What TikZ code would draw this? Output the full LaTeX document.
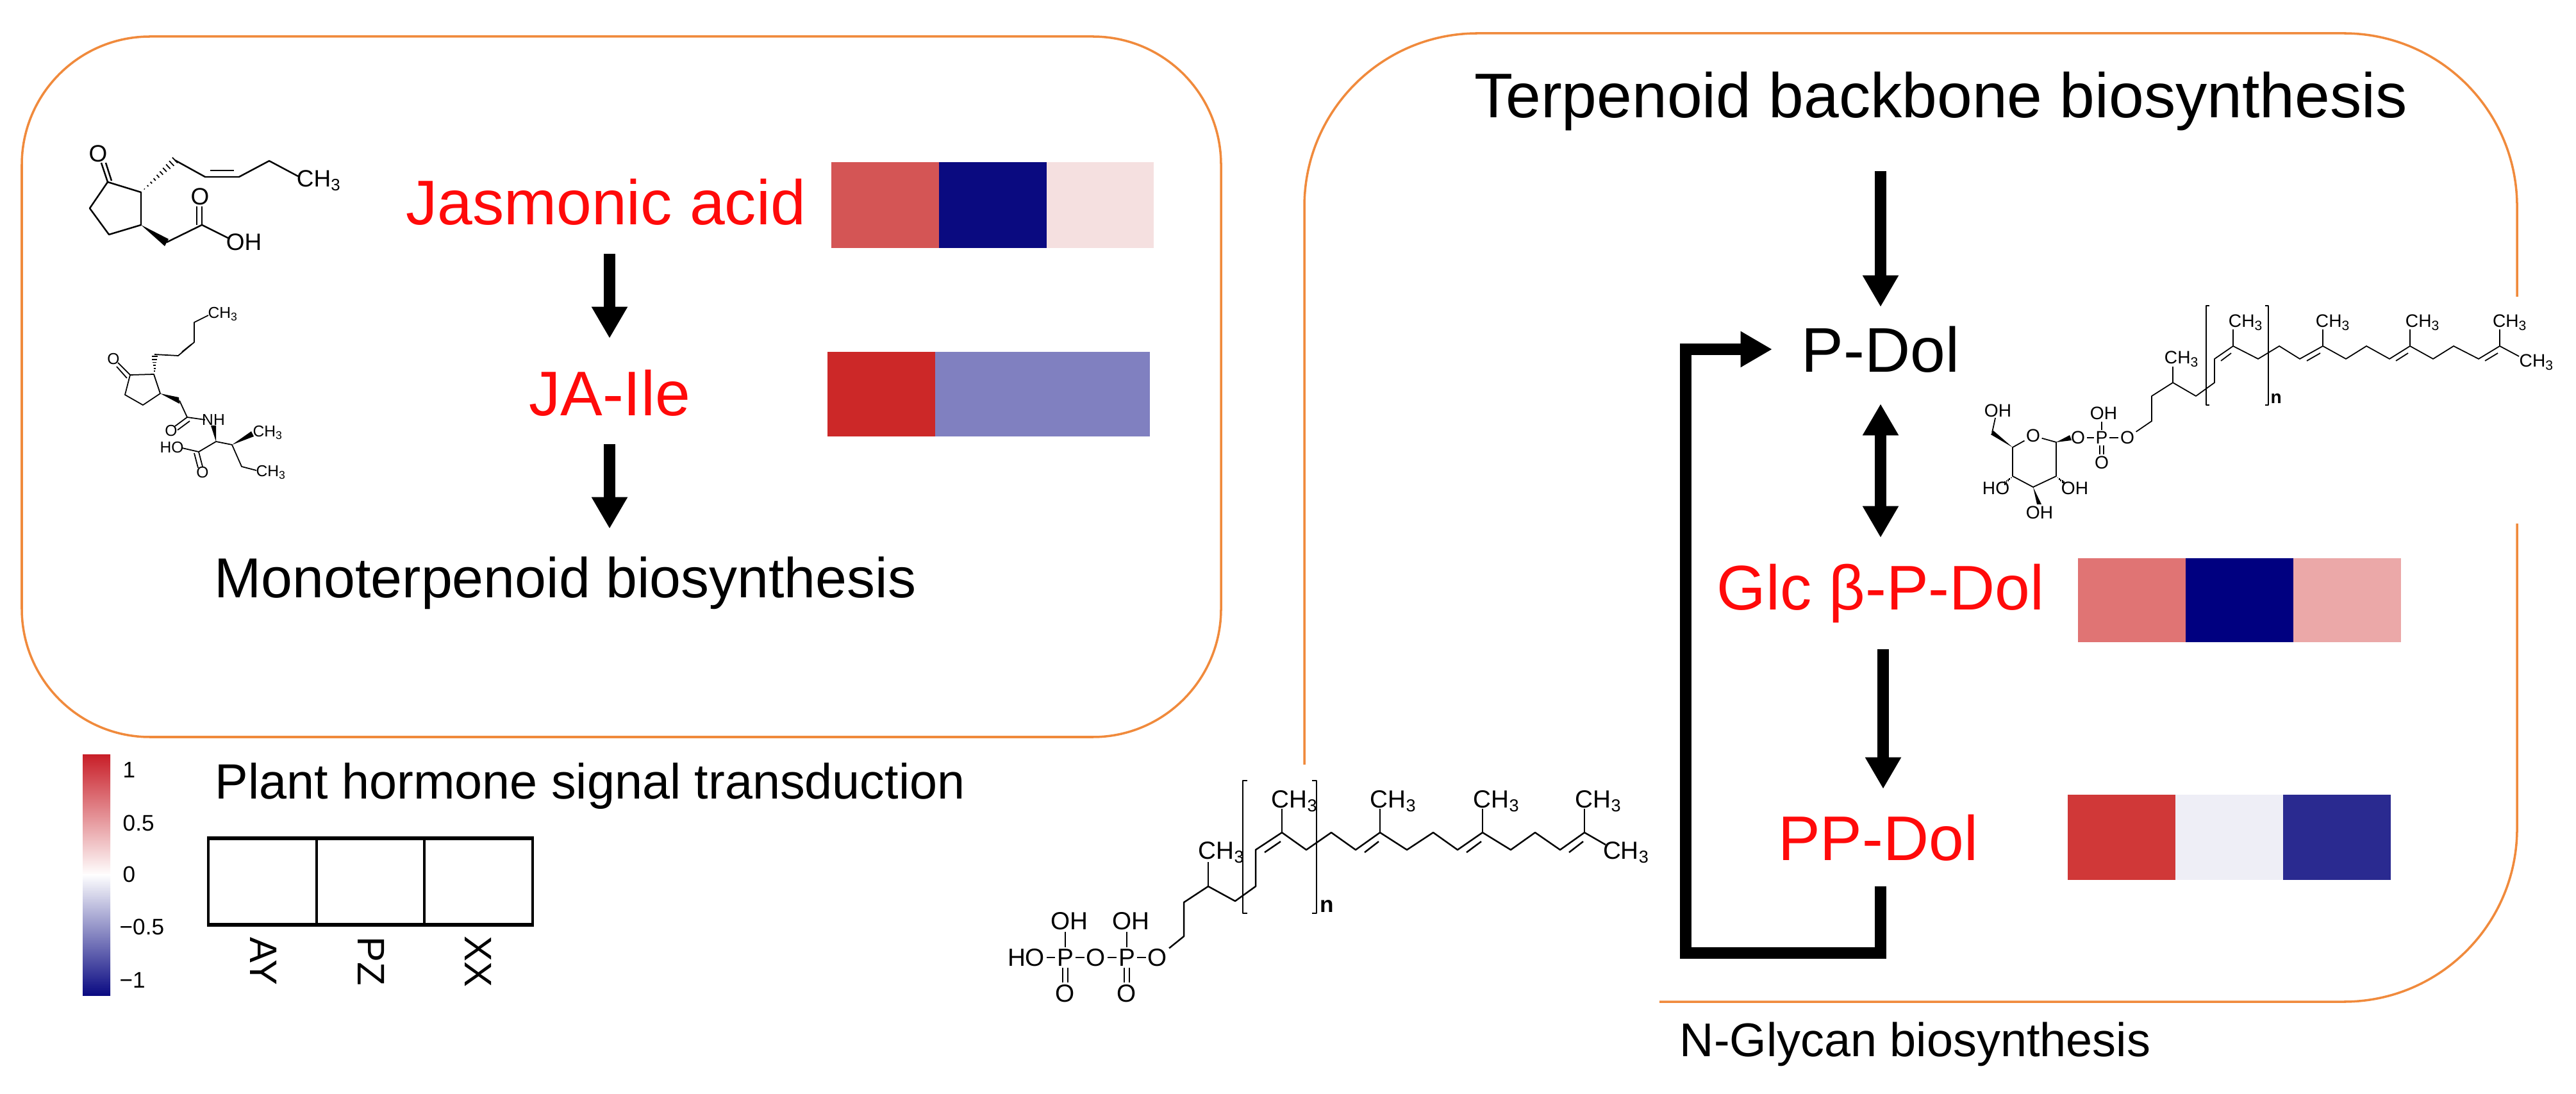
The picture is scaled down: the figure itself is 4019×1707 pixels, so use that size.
\documentclass[tikz,border=0pt]{standalone}
\usepackage{fontspec}
\setmainfont{Liberation Sans}
\usetikzlibrary{arrows.meta}
\definecolor{boxor}{HTML}{F08A3C}
\definecolor{txtred}{HTML}{FF0A0A}
\definecolor{cbred}{RGB}{200,30,40}
\definecolor{cbblue}{RGB}{10,10,130}
\tikzset{
  big/.style={font=\fontsize{28}{30}\selectfont, inner sep=0pt},
  redt/.style={big, text=txtred},
  arr/.style={line width=5pt, -{Triangle[width=15pt,length=14pt]}},
  darr/.style={line width=5pt, {Triangle[width=15pt,length=14pt]}-{Triangle[width=15pt,length=14pt]}},
  obox/.style={draw=boxor, line width=1pt},
  mA/.style={font=\fontsize{11}{12}\selectfont, inner sep=0.5pt},
  mB/.style={font=\fontsize{8}{9}\selectfont, inner sep=0.5pt},
  mJ/.style={font=\fontsize{10.5}{12}\selectfont, inner sep=0.5pt},
  mK/.style={font=\fontsize{7}{8}\selectfont, inner sep=0.5pt},
  bond/.style={line width=0.7pt},
  bondt/.style={line width=0.5pt},
}
\begin{document}
\begin{tikzpicture}[x=0.01cm,y=-0.01cm, line join=round]
\useasboundingbox (0,0) rectangle (4019,1707);

% ---------------- boxes
\draw[obox, rounded corners=2cm] (34,57) rectangle (1905,1150);
\draw[obox, rounded corners=2.7cm] (2035,1193) -- (2035,52) -- (3927,52) -- (3927,463);
\draw[obox, rounded corners=2.7cm] (3927,817) -- (3927,1563) -- (2589,1563);

% ---------------- left pathway
\node[redt] (ja) at (945,315) {Jasmonic acid};
\node[redt] (jaile) at (951,613) {JA-Ile};
\node[big, font=\fontsize{25}{27}\selectfont] (mono) at (882,910) {Monoterpenoid biosynthesis};
\draw[arr, shorten <=0.81cm, shorten >=0.85cm] (ja.center -| jaile.center) -- (jaile.center);
\draw[arr, shorten <=0.80cm, shorten >=0.85cm] (jaile.center) -- (jaile.center |- mono.center);

\fill[fill={rgb,255:red,212;green,85;blue,85}] (1297,253) rectangle (1465,387);
\fill[fill={rgb,255:red,10;green,10;blue,128}] (1465,253) rectangle (1633,387);
\fill[fill={rgb,255:red,245;green,224;blue,224}] (1633,253) rectangle (1800,387);
\fill[fill={rgb,255:red,204;green,40;blue,40}] (1291,549) rectangle (1459,681);
\fill[fill={rgb,255:red,128;green,128;blue,192}] (1459,549) rectangle (1794,681);

% ---------------- right pathway
\node[big] (terp) at (3028,158) {Terpenoid backbone biosynthesis};
\node[big] (pdol) at (2934,545) {P-Dol};
\node[redt] (glc) at (2934,926) {Glc β-P-Dol};
\node[redt] (ppdol) at (2930,1307) {PP-Dol};
\node[font=\fontsize{21}{23}\selectfont, inner sep=0pt] (nglyc) at (2988,1629) {N-Glycan biosynthesis};
\coordinate (lp) at (2630,1487);

\draw[arr, shorten <=1.09cm, shorten >=0.66cm] (terp.center -| pdol.center) -- (pdol.center);
\draw[darr, shorten <=0.85cm, shorten >=0.87cm] (pdol.center) -- (glc.center);
\draw[arr, shorten <=0.87cm, shorten >=0.76cm] ([xshift=0.04cm]glc.center) -- ([xshift=0.04cm]glc.center |- ppdol.center);
\draw[arr, line join=miter] ([xshift=0.04cm,yshift=-0.76cm]ppdol.center) |- (lp) |- ([xshift=-1.69cm]pdol.center);

\fill[fill={rgb,255:red,224;green,116;blue,116}] (3242,871) rectangle (3410,1002);
\fill[fill={rgb,255:red,0;green,0;blue,128}] (3410,871) rectangle (3578,1002);
\fill[fill={rgb,255:red,235;green,168;blue,168}] (3578,871) rectangle (3746,1002);
\fill[fill={rgb,255:red,208;green,56;blue,56}] (3226,1240) rectangle (3394,1373);
\fill[fill={rgb,255:red,238;green,238;blue,246}] (3394,1240) rectangle (3562,1373);
\fill[fill={rgb,255:red,42;green,42;blue,144}] (3562,1240) rectangle (3730,1373);

% ---------------- legend
\shade[top color=cbred, bottom color=white] (129,1177) rectangle (172,1366);
\shade[top color=white, bottom color=cbblue] (129,1364) rectangle (172,1553);
\begin{scope}[font=\fontsize{10}{11}\selectfont]
\node[anchor=west, inner sep=0] (t1) at (191,1201) {1};
\node[anchor=west, inner sep=0] (t2) at (191,1284) {0.5};
\node[anchor=west, inner sep=0] (t3) at (191,1364) {0};
\node[anchor=west, inner sep=0] (t4) at (186,1446) {−0.5};
\node[anchor=west, inner sep=0] (t5) at (186,1529) {−1};
\end{scope}
\node[anchor=west, font=\fontsize{22}{24}\selectfont, inner sep=0] (pht) at (335,1226) {Plant hormone signal transduction};
\draw[line width=1pt] (325,1308) -- (325,1443) (494,1308) -- (494,1443) (662,1308) -- (662,1443) (831,1308) -- (831,1443);
\draw[line width=1.6pt] (323,1308) -- (833,1308) (323,1443) -- (833,1443);
\node[rotate=-90, font=\fontsize{17}{18}\selectfont, inner sep=0] (ay) at (411,1500) {AY};
\node[rotate=-90, font=\fontsize{17}{18}\selectfont, inner sep=0] (pz) at (579,1500) {PZ};
\node[rotate=-90, font=\fontsize{17}{18}\selectfont, inner sep=0] (xx) at (746,1500) {XX};

% ---------------- jasmonic acid molecule
\begin{scope}[bond]
\draw (168,284) -- (220,300) -- (220,351) -- (170,366) -- (140,325) -- cycle;
\draw (168,284) -- (158,254) (174,282) -- (165,254);
\node[mJ] (jo1) at (153,240) {O};
\foreach \t in {0.1,0.2,...,1.0}
  \draw[line width=0.5pt] ({220+53*\t-6*\t*0.68},{300-50*\t-6*\t*0.72}) -- ({220+53*\t+6*\t*0.68},{300-50*\t+6*\t*0.72});
\draw (273,250) -- (320,276) -- (373,276) -- (420,251) -- (465,275);
\draw (328,266) -- (365,266);
\node[mJ, anchor=west] (jch3) at (460,282) {CH\textsubscript{3}};
\fill (220,351) -- (257,384) -- (263,373) -- cycle;
\draw (260,378) -- (315,351) -- (357,372);
\draw (315,351) -- (315,322) (307,351) -- (307,322);
\node[mJ] (jo2) at (312,307) {O};
\node[mJ, anchor=west] (joh) at (350,378) {OH};
\end{scope}

% ---------------- JA-Ile molecule
\begin{scope}[bondt]
\draw (203,585) -- (240,584) -- (250,614) -- (223,632) -- (195,616) -- cycle;
\draw (203,585) -- (184,566) (198,590) -- (182,572);
\node[mK] (io1) at (177,560) {O};
\foreach \t in {0.15,0.3,...,1.0}
  \draw ({241-5*\t},{584-31*\t}) -- ({241+5*\t},{584-31*\t});
\draw (241,553) -- (278,555) -- (303,534) -- (303,503) -- (325,492);
\draw (284,549) -- (299,537);
\node[mK, anchor=west] (ich3a) at (322,490) {CH\textsubscript{3}};
\fill (250,614) -- (279,620) -- (280,630) -- cycle;
\draw (280,625) -- (292,651) -- (320,655);
\draw (292,651) -- (273,665) (296,657) -- (277,671);
\node[mK] (io2) at (267,672) {O};
\node[mK] (inh) at (333,655) {NH};
\fill (337,689) -- (329,664) -- (337,664) -- cycle;
\draw (337,689) -- (362,694);
\fill (362,694) -- (392,673) -- (396,681) -- cycle;
\node[mK, anchor=west] (ich3b) at (392,675) {CH\textsubscript{3}};
\draw (362,694) -- (377,728) -- (400,734);
\node[mK, anchor=west] (ich3c) at (397,737) {CH\textsubscript{3}};
\draw (337,689) -- (310,705) -- (284,699);
\node[mK] (iho) at (268,698) {HO};
\draw (310,705) -- (316,728) (303,707) -- (309,730);
\node[mK] (io3) at (316,737) {O};
\end{scope}

% ---------------- PP-Dol molecule (bottom)
\begin{scope}[bond]
\node[mA] (bho) at (1601,1494) {HO};
\node[mA] (bp1) at (1662,1494) {P};
\node[mA] (bo1) at (1710,1494) {O};
\node[mA] (bp2) at (1758,1494) {P};
\node[mA] (bo2) at (1806,1494) {O};
\node[mA] (boh1) at (1668,1437) {OH};
\node[mA] (boh2) at (1764,1437) {OH};
\node[mA] (bo3) at (1662,1550) {O};
\node[mA] (bo4) at (1758,1550) {O};
\draw (bho) -- (bp1) -- (bo1) -- (bp2) -- (bo2);
\draw (bp1) -- (bp1 |- boh1.south) (bp2) -- (bp2 |- boh2.south);
\draw[double, double distance=1.6pt] (bp1) -- (bo3) (bp2) -- (bo4);
\draw (bo2) -- (1847,1461) -- (1847,1408) -- (1885,1383) -- (1927,1406) -- (1959,1383) -- (1959,1326) -- (2000,1299) -- (2038,1326) -- (2077,1299) -- (2115,1326) -- (2153,1299) -- (2195,1326) -- (2236,1299) -- (2274,1326) -- (2313,1299) -- (2357,1326) -- (2395,1299) -- (2434,1326) -- (2472,1299) -- (2505,1318);
\draw (1973,1330) -- (1998,1313) (2129,1330) -- (2151,1313) (2288,1330) -- (2311,1313) (2448,1330) -- (2470,1313);
\draw (1885,1383) -- (1885,1345) (2000,1299) -- (2000,1262) (2153,1299) -- (2153,1262) (2313,1299) -- (2313,1262) (2472,1299) -- (2472,1262);
\node[mA] (bm1) at (1906,1330) {CH\textsubscript{3}};
\node[mA] (bm2) at (2020,1250) {CH\textsubscript{3}};
\node[mA] (bm3) at (2174,1250) {CH\textsubscript{3}};
\node[mA] (bm4) at (2335,1250) {CH\textsubscript{3}};
\node[mA] (bm5) at (2494,1250) {CH\textsubscript{3}};
\node[mA, anchor=west] (bm6) at (2498,1330) {CH\textsubscript{3}};
\draw (1946,1218) -- (1939,1218) -- (1939,1425) -- (1946,1425);
\draw (2047,1218) -- (2054,1218) -- (2054,1425) -- (2047,1425);
\node[mA, anchor=west, font=\bfseries\fontsize{10}{11}\selectfont] (bn) at (2056,1414) {n};
\end{scope}

% ---------------- Glc-P-Dol molecule (top right)
\begin{scope}[bondt]
\node[mB] (gp) at (3279,683) {P};
\node[mB] (go1) at (3242,683) {O};
\node[mB] (go2) at (3319,683) {O};
\node[mB] (goh) at (3282,645) {OH};
\node[mB] (go3) at (3279,722) {O};
\node[mB] (gro) at (3172,680) {O};
\draw (go1) -- (gp) -- (go2);
\draw (gp) -- (gp |- goh.south);
\draw[double, double distance=1.2pt] (gp) -- (go3);
\draw (go2) -- (3357,657) -- (3357,618) -- (3390,597) -- (3426,618) -- (3455,597) -- (3455,560) -- (3484,540) -- (3523,560) -- (3556,540) -- (3588,560) -- (3624,540) -- (3660,560) -- (3692,540) -- (3728,560) -- (3760,540) -- (3796,560) -- (3828,540) -- (3867,560) -- (3900,540) -- (3930,556);
\draw (3465,563) -- (3481,551) (3599,563) -- (3620,551) (3738,563) -- (3757,551) (3877,563) -- (3897,551);
\draw (3390,597) -- (3390,572) (3484,540) -- (3484,514) (3624,540) -- (3624,514) (3760,540) -- (3760,514) (3900,540) -- (3900,514);
\node[mB] (gm1) at (3404,560) {CH\textsubscript{3}};
\node[mB] (gm2) at (3504,503) {CH\textsubscript{3}};
\node[mB] (gm3) at (3640,503) {CH\textsubscript{3}};
\node[mB] (gm4) at (3780,503) {CH\textsubscript{3}};
\node[mB] (gm5) at (3916,503) {CH\textsubscript{3}};
\node[mB, anchor=west] (gm6) at (3928,565) {CH\textsubscript{3}};
\draw (3447,477) -- (3442,477) -- (3442,632) -- (3447,632);
\draw (3534,477) -- (3539,477) -- (3539,632) -- (3534,632);
\node[mB, anchor=west, font=\bfseries\fontsize{8}{9}\selectfont] (gn) at (3540,622) {n};
% glucose ring
\draw (gro) -- (3208,690) -- (3208,743) -- (3172,760) -- (3140,743) -- (3140,698) -- (gro);
\fill (3208,690) -- (3229,679) -- (3232,687) -- cycle;
\fill (3140,698) -- (3106,678) -- (3110,672) -- cycle;
\draw (3108,675) -- (3113,652);
\node[mB] (g6oh) at (3117,641) {OH};
\fill (3172,760) -- (3178,787) -- (3185,787) -- cycle;
\node[mB] (g3oh) at (3182,800) {OH};
\foreach \t in {0.2,0.4,...,1.0} \draw ({3140-12*\t},{743+11*\t-3*\t}) -- ({3140-12*\t},{743+11*\t+3*\t});
\node[mB] (g4oh) at (3114,762) {HO};
\foreach \t in {0.2,0.4,...,1.0} \draw ({3208+12*\t},{743+11*\t-3*\t}) -- ({3208+12*\t},{743+11*\t+3*\t});
\node[mB] (g2oh) at (3237,762) {OH};
\end{scope}
\end{tikzpicture}
\end{document}
